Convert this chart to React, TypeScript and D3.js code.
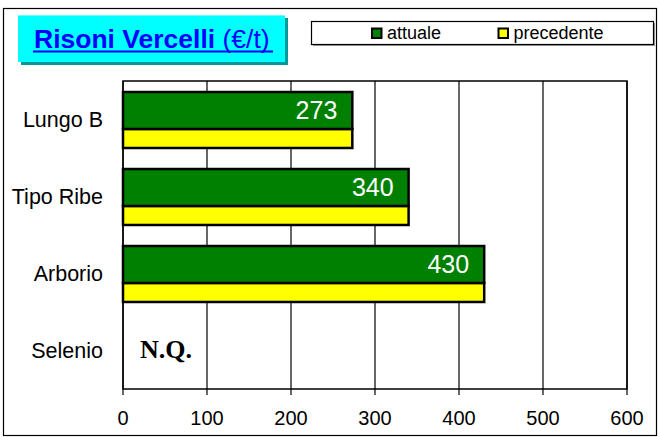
import React from "react";
import * as d3 from "d3";

const categories = ["Lungo B", "Tipo Ribe", "Arborio", "Selenio"];
const attuale: (number | null)[] = [273, 340, 430, null];
const precedente: (number | null)[] = [273, 340, 430, null];
const xTicks = [0, 100, 200, 300, 400, 500, 600];
const seriesNames = ["attuale", "precedente"];
const noQuote = "N.Q.";

const W = 659;
const H = 437;
const SANS = "'Liberation Sans', Arial, sans-serif";

export default function App() {
  const left = 123, right = 627, top = 81, bottom = 389;
  const x = d3.scaleLinear().domain([0, 600]).range([left, right]);
  const y = d3.scaleBand<string>().domain(categories).range([top, bottom]);
  const bw = y.bandwidth();
  const gTop = 0.143, gH = 0.48, yTop = 0.623, yH = 0.247;

  return (
    <svg width={W} height={H} style={{ position: "absolute", left: 0, top: 0, background: "#fff" }}>
      <rect x={3.5} y={8.5} width={653} height={427} fill="#fff" stroke="#000" strokeWidth={1.2} />
      {/* title */}
      <rect x={21} y={18} width={267} height={47} fill="#009999" />
      <rect x={18} y={15} width={267} height={47} fill="#00FFFF" />
      <line x1={18} x2={285} y1={15.5} y2={15.5} stroke="#66FFFF" strokeWidth={1} />
      <text x={34} y={48} fontFamily={SANS} fontSize={26.5} fill="#0000FF">
        <tspan fontWeight="bold">Risoni Vercelli</tspan>
        <tspan> (€/t)</tspan>
      </text>
      <line x1={33} x2={273} y1={51.5} y2={51.5} stroke="#0000FF" strokeWidth={2} />
      {/* legend */}
      <rect x={313} y={23} width={342} height={23} fill="#999" />
      <rect x={311.5} y={21.5} width={342} height={23} fill="#fff" stroke="#000" strokeWidth={1.2} />
      {seriesNames.map((s, i) => {
        const sx = i === 0 ? 372 : 498.5;
        return (
          <g key={s}>
            <rect x={sx} y={28.5} width={9.5} height={9.5} fill={i === 0 ? "#008000" : "#FFFF00"} stroke="#000" strokeWidth={2} />
            <text x={sx + 15} y={38.5} fontFamily={SANS} fontSize={18} fill="#000">{s}</text>
          </g>
        );
      })}
      {/* plot */}
      <rect x={left} y={top} width={right - left} height={bottom - top} fill="#fff" />
      {xTicks.map((t) => (
        <g key={t}>
          <line x1={x(t)} x2={x(t)} y1={top} y2={bottom + 6} stroke="#000" strokeWidth={1.2} />
          <text x={x(t)} y={425} textAnchor="middle" fontFamily={SANS} fontSize={20} fill="#000">{t}</text>
        </g>
      ))}
      <rect x={left} y={top} width={right - left} height={bottom - top} fill="none" stroke="#000" strokeWidth={1.5} />
      {categories.map((c, i) => {
        const y0 = y(c)!;
        const a = attuale[i];
        const p = precedente[i];
        return (
          <g key={c}>
            <text x={103} y={y0 + bw / 2} dy="0.35em" textAnchor="end" fontFamily={SANS} fontSize={21.5} fill="#000">{c}</text>
            {p != null && (
              <rect x={x(0)} y={y0 + bw * yTop} width={x(p) - x(0)} height={bw * yH} fill="#FFFF00" stroke="#000" strokeWidth={2.5} />
            )}
            {a != null && (
              <>
                <rect x={x(0)} y={y0 + bw * gTop} width={x(a) - x(0)} height={bw * gH} fill="#008000" stroke="#000" strokeWidth={2.5} />
                <text x={x(a) - 15} y={y0 + bw * (gTop + gH / 2)} dy="0.36em" textAnchor="end" fontFamily={SANS} fontSize={25} fill="#fff">{a}</text>
              </>
            )}
            {a == null && (
              <text x={140} y={358} fontFamily="'Liberation Serif', 'Times New Roman', serif" fontWeight="bold" fontSize={26} fill="#000">{noQuote}</text>
            )}
          </g>
        );
      })}
    </svg>
  );
}
